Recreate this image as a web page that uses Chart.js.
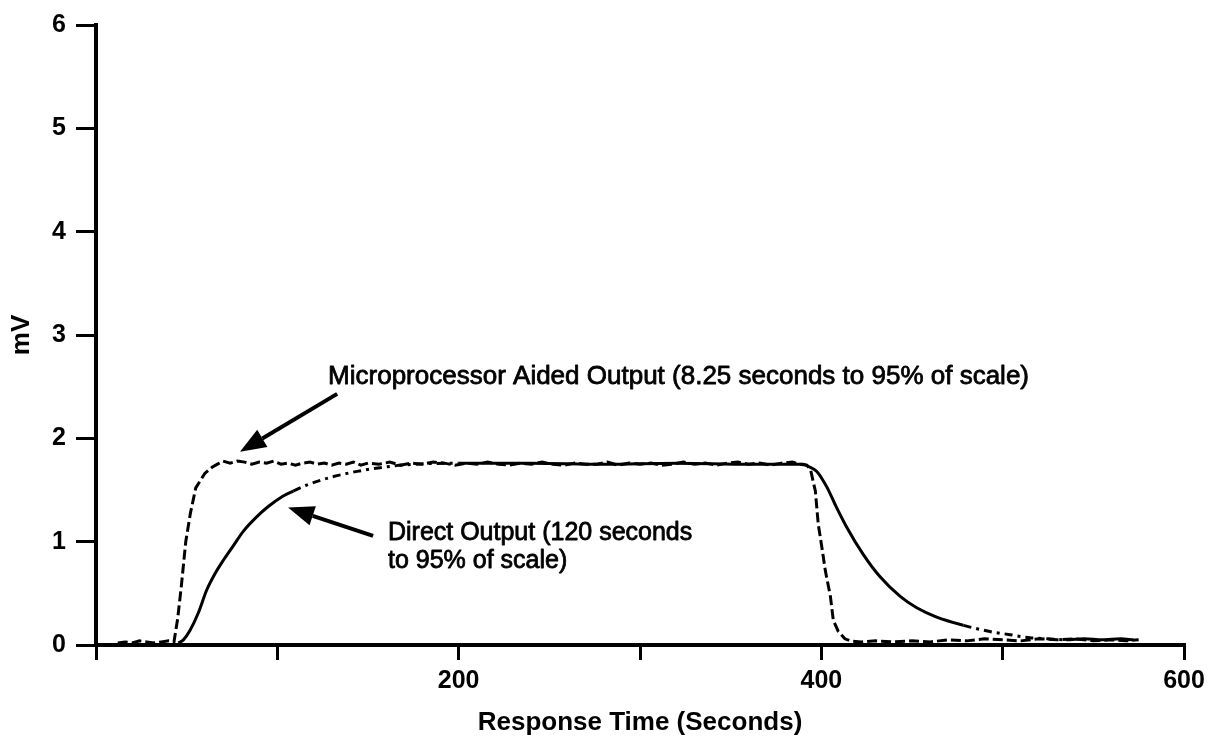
<!DOCTYPE html>
<html>
<head>
<meta charset="utf-8">
<script src="https://cdn.jsdelivr.net/npm/chart.js@4/dist/chart.umd.min.js"></script>
<style>
  html, body { margin: 0; padding: 0; background: #fff; }
  #wrap { width: 1215px; height: 745px; position: relative; }
</style>
</head>
<body>
<div id="wrap"><canvas id="responseChart"></canvas></div>
<script>
// Response curves (time in seconds, output in mV)

// Microprocessor aided output (dashed, noisy)
const microTime = [
  12, 16, 20, 24, 28, 32, 36, 40, 43, 45, 47, 49.5, 52, 55, 60, 64, 67, 70,
  74, 78, 82, 86, 90, 94, 98, 102, 106, 110, 114, 118, 122, 126, 130, 134, 138, 142,
  146, 150, 156, 162, 168, 174, 180, 186, 192, 198, 204, 210, 216, 222, 228, 234,
  240, 246, 252, 258, 264, 270, 276, 282, 288, 294, 300, 306, 312, 318, 324, 330,
  336, 342, 348, 354, 360, 366, 372, 378, 384, 388, 392,
  394, 396.7, 398.3, 400.6, 402.2, 405, 406.6, 409.4, 413, 416,
  422, 430, 440, 450, 460, 470, 480, 490, 500, 510, 520, 530, 540, 550, 560, 568, 575
];
const microValue = [
  0.02, 0.03, 0.02, 0.04, 0.03, 0.02, 0.03, 0.04, 0.03, 0.25, 0.56, 1.00, 1.27, 1.52, 1.66, 1.72, 1.75, 1.78,
  1.76, 1.78, 1.77, 1.75, 1.77, 1.76, 1.78, 1.75, 1.76, 1.74, 1.76, 1.77, 1.75, 1.76, 1.74, 1.76, 1.75, 1.77,
  1.74, 1.76, 1.75, 1.77, 1.74, 1.76, 1.75, 1.77, 1.76, 1.74, 1.76, 1.75, 1.77, 1.75, 1.74, 1.76,
  1.75, 1.77, 1.75, 1.74, 1.76, 1.75, 1.75, 1.77, 1.74, 1.76, 1.75, 1.76, 1.74, 1.75, 1.77, 1.75,
  1.76, 1.74, 1.76, 1.77, 1.75, 1.76, 1.74, 1.76, 1.77, 1.75, 1.74,
  1.70, 1.49, 1.17, 0.91, 0.72, 0.47, 0.24, 0.13, 0.06, 0.04,
  0.03, 0.04, 0.03, 0.04, 0.03, 0.05, 0.04, 0.06, 0.05, 0.04, 0.06, 0.05, 0.06, 0.04, 0.05, 0.04, 0.05
];

// Direct output (solid, dash-dot where the trace thins out)
const directTime = [
  45.4, 48.2, 51.8, 56.4, 61, 65.6, 70.2, 75.7, 81.2, 88.6, 95, 103, 108.8, 118, 131, 144, 158.5,
  172, 200, 240, 280, 320, 360, 390,
  392.7, 397.5, 403, 407.6, 414, 423, 432.4, 443.5, 452.6, 463.6, 478.4, 493, 504,
  515, 525, 535, 545, 555, 565, 572
];
const directValue = [
  0.02, 0.05, 0.14, 0.31, 0.53, 0.69, 0.82, 0.96, 1.10, 1.24, 1.34, 1.44, 1.49, 1.56, 1.63, 1.68, 1.72,
  1.745, 1.76, 1.76, 1.75, 1.76, 1.75, 1.75,
  1.73, 1.68, 1.53, 1.36, 1.14, 0.88, 0.66, 0.47, 0.36, 0.27, 0.19, 0.13, 0.10,
  0.07, 0.06, 0.05, 0.06, 0.05, 0.06, 0.05
];

// Axis ticks
const xTickLabels = [200, 400, 600];
const yTickLabels = [0, 1, 2, 3, 4, 5, 6];

// Annotation texts and arrows, placed in data units
const notes = [
  { lines: ['Microprocessor Aided Output (8.25 seconds to 95% of scale)'], x: 128, y: 2.60, lineGap: 0, size: 26,
    arrow: { from: [133, 2.43], to: [79.4, 1.87] } },
  { lines: ['Direct Output (120 seconds', 'to 95% of scale)'], x: 161, y: 1.085, lineGap: 0.27, size: 25,
    arrow: { from: [152.8, 1.056], to: [105.9, 1.33] } }
];

const FONT = "'Liberation Sans', Arial, Helvetica, sans-serif";

function toPoints(ts, vs) {
  return ts.map((t, i) => ({ x: t, y: vs[i] }));
}

function drawArrow(ctx, x1, y1, x2, y2) {
  const ang = Math.atan2(y2 - y1, x2 - x1);
  const headLen = 26, headW = 10;
  const bx = x2 - headLen * Math.cos(ang), by = y2 - headLen * Math.sin(ang);
  ctx.beginPath();
  ctx.moveTo(x1, y1);
  ctx.lineTo(bx, by);
  ctx.lineWidth = 4;
  ctx.stroke();
  ctx.beginPath();
  ctx.moveTo(x2, y2);
  ctx.lineTo(bx + headW * Math.sin(ang), by - headW * Math.cos(ang));
  ctx.lineTo(bx - headW * Math.sin(ang), by + headW * Math.cos(ang));
  ctx.closePath();
  ctx.fill();
}

const notesPlugin = {
  id: 'notes',
  afterDatasetsDraw(chart) {
    const { ctx, scales: { x, y } } = chart;
    ctx.save();
    ctx.fillStyle = '#000';
    ctx.strokeStyle = '#000';
    ctx.textAlign = 'left';
    ctx.textBaseline = 'middle';
    ctx.lineJoin = 'round';
    notes.forEach(n => {
      ctx.font = n.size + 'px ' + FONT;
      n.lines.forEach((ln, i) => {
        const px = x.getPixelForValue(n.x), py = y.getPixelForValue(n.y - i * n.lineGap);
        ctx.lineWidth = 0.8;
        ctx.strokeText(ln, px, py);
        ctx.fillText(ln, px, py);
      });
      const a = n.arrow;
      drawArrow(ctx,
        x.getPixelForValue(a.from[0]), y.getPixelForValue(a.from[1]),
        x.getPixelForValue(a.to[0]), y.getPixelForValue(a.to[1]));
    });
    ctx.restore();
  }
};

// dash-dot where the direct trace is broken up in the scan
const inDashDot = t => (t > 108 && t < 175) || (t > 470 && t < 530);

new Chart(document.getElementById('responseChart'), {
  type: 'line',
  data: {
    datasets: [
      {
        label: 'Microprocessor Aided Output',
        data: toPoints(microTime, microValue),
        borderColor: '#000',
        borderWidth: 3,
        borderDash: [10, 4],
        pointRadius: 0,
        tension: 0
      },
      {
        label: 'Direct Output',
        data: toPoints(directTime, directValue),
        borderColor: '#000',
        borderWidth: 3,
        pointRadius: 0,
        cubicInterpolationMode: 'monotone',
        segment: {
          borderDash: c => inDashDot(c.p0.parsed.x) ? [8, 5, 3, 5] : undefined
        }
      }
    ]
  },
  options: {
    responsive: true,
    maintainAspectRatio: false,
    animation: false,
    layout: { padding: { top: 20, right: 31, left: 0, bottom: 0 } },
    plugins: {
      legend: { display: false },
      tooltip: { enabled: false }
    },
    scales: {
      x: {
        type: 'linear',
        min: 0,
        max: 600,
        afterFit: s => { s.height = 100; },
        border: { display: true, color: '#000', width: 4 },
        grid: { drawOnChartArea: false, drawTicks: true, tickLength: 15, color: '#000', lineWidth: 3 },
        ticks: {
          stepSize: 100,
          autoSkip: false,
          maxRotation: 0,
          padding: 6,
          color: '#000',
          font: { family: FONT, size: 25, weight: 'bold' },
          callback: v => xTickLabels.includes(v) ? String(v) : ''
        },
        title: {
          display: true,
          text: 'Response Time (Seconds)',
          color: '#000',
          font: { family: FONT, size: 26, weight: 'bold' },
          padding: { top: 0, bottom: 7 }
        }
      },
      y: {
        min: 0,
        max: 6,
        afterFit: s => { s.width = 96; },
        border: { display: true, color: '#000', width: 4 },
        grid: { drawOnChartArea: false, drawTicks: true, tickLength: 20, color: '#000', lineWidth: 3 },
        ticks: {
          stepSize: 1,
          padding: 10,
          color: '#000',
          font: { family: FONT, size: 25, weight: 'bold' },
          callback: v => yTickLabels.includes(v) ? String(v) : ''
        },
        title: {
          display: true,
          text: 'mV',
          color: '#000',
          font: { family: FONT, size: 26, weight: 'bold' },
          padding: { top: 6, bottom: 0 }
        }
      }
    }
  },
  plugins: [notesPlugin]
});
</script>
</body>
</html>
